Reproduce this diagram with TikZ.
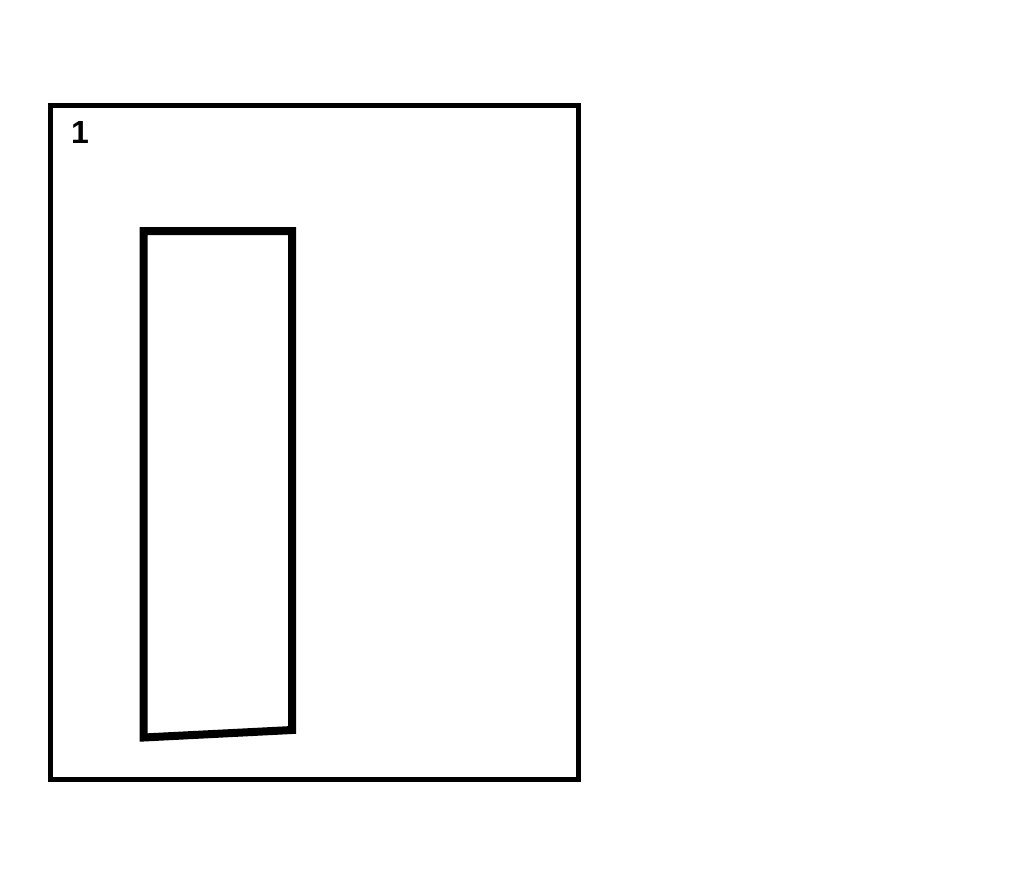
\documentclass[tikz,border=0pt]{standalone}
\usepackage{fontspec}
\setmainfont{Liberation Sans}
\usetikzlibrary{positioning}
\tikzstyle{frame} = [draw=black, line width=5pt]
\tikzstyle{panel} = [draw=black, line width=8pt, line join=miter]
\tikzstyle{number} = [anchor=north west, inner sep=0pt, font=\fontsize{32}{32}\selectfont\bfseries]

\begin{document}
\begin{tikzpicture}[x=1pt, y=-1pt]

%% CANVAS

\useasboundingbox (0,0) rectangle (1024,894);

%% SHAPES

\draw [frame] (50,105) rectangle (578,779);
\node (num) [number] at (71,121) {1};
\draw [panel] (143.5,231) -- (292,231) -- (292,730) -- (143.5,737.5) -- cycle;

\end{tikzpicture}
\end{document}
